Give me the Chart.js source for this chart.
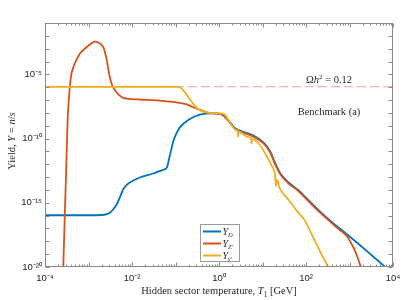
<!DOCTYPE html>
<html><head><meta charset="utf-8">
<script src="https://cdn.jsdelivr.net/npm/chart.js@4"></script>
<style>html,body{margin:0;padding:0;background:#fff;}canvas{display:block;}</style>
</head><body>
<canvas id="c" width="407" height="300"></canvas>
<script>
// ---- tick labels ----
const xTickValues = [1e-4, 1e-2, 1, 1e2, 1e4];
const xTickLabels = ['10⁻⁴', '10⁻²', '10⁰', '10²', '10⁴'];
const yTickValues = [1e-20, 1e-15, 1e-10, 1e-5];
const yTickLabels = ['10⁻²⁰', '10⁻¹⁵', '10⁻¹⁰', '10⁻⁵'];

// ---- Y_D ----
const tD = [1e-4, 1e-3, 2.0e-3, 2.63e-3, 3.09e-3, 3.72e-3, 4.47e-3, 5.37e-3, 6.31e-3, 7.59e-3, 8.91e-3, 1.51e-2, 3.09e-2, 5.01e-2, 6.31e-2, 7.08e-2, 7.94e-2, 8.91e-2, 1.05e-1, 1.26e-1, 2.14e-1, 3.63e-1, 6.76e-1, 1.05, 1.51, 2.34, 3.02, 6.17, 10.5, 14.8, 19.5, 25.1, 39.8, 66.1, 87.1, 191, 427, 661, 1259, 2512, 3981, 6607];
const yD = [1.07e-16, 1.07e-16, 1.12e-16, 1.32e-16, 1.70e-16, 3.16e-16, 7.76e-16, 3.16e-15, 1.15e-14, 2.51e-14, 3.80e-14, 9.33e-14, 1.91e-13, 3.55e-13, 5.25e-13, 2.51e-12, 1.26e-11, 6.31e-11, 2.51e-10, 7.41e-10, 3.39e-9, 7.41e-9, 9.33e-9, 8.32e-9, 3.80e-9, 6.31e-10, 4.17e-10, 1.70e-10, 5.01e-11, 1.12e-11, 1.26e-12, 2.24e-13, 3.80e-14, 1.0e-14, 3.98e-15, 2.82e-16, 2.51e-17, 7.59e-18, 1.26e-18, 1.74e-19, 4.47e-20, 1e-20];

// ---- Y_Z' ----
const tZ = [2.63e-4, 2.88e-4, 3.16e-4, 3.31e-4, 3.47e-4, 3.72e-4, 3.98e-4, 4.47e-4, 5.25e-4, 6.31e-4, 9.12e-4, 1.17e-3, 1.41e-3, 1.66e-3, 1.91e-3, 2.19e-3, 2.40e-3, 2.63e-3, 3.09e-3, 3.55e-3, 4.07e-3, 5.01e-3, 6.31e-3, 1e-2, 1.51e-2, 4.37e-2, 8.91e-2, 1.82e-1, 2.57e-1, 3.63e-1, 5.25e-1, 7.41e-1, 1.15, 1.51, 2.34, 3.02, 6.17, 10.5, 14.8, 19.5, 25.1, 39.8, 66.1, 87.1, 191, 427, 661, 871, 1023, 1349, 1585, 1820];
const yZ = [1e-20, 3.16e-16, 1.12e-11, 2.51e-9, 5.01e-8, 1e-6, 7.94e-6, 3.63e-5, 1.26e-4, 4.07e-4, 1.35e-3, 2.63e-3, 3.55e-3, 3.02e-3, 2.24e-3, 1.35e-3, 5.01e-4, 1.23e-4, 6.03e-6, 1.26e-6, 5.50e-7, 2.51e-7, 1.48e-7, 1.20e-7, 1.10e-7, 9.12e-8, 7.08e-8, 4.68e-8, 2.75e-8, 1.70e-8, 1.12e-8, 9.33e-9, 7.59e-9, 3.31e-9, 5.62e-10, 3.55e-10, 1.41e-10, 4.17e-11, 8.91e-12, 1.0e-12, 1.86e-13, 3.16e-14, 8.32e-15, 3.31e-15, 2.34e-16, 2.0e-17, 5.62e-18, 2.51e-18, 1.05e-18, 1.74e-19, 3.98e-20, 1e-20];

// ---- Y_gamma' ----
const tG = [1e-4, 1.12e-1, 1.32e-1, 1.51e-1, 1.82e-1, 2.19e-1, 2.57e-1, 3.09e-1, 3.63e-1, 5.25e-1, 7.94e-1, 1.15, 1.38, 1.51, 1.74, 2.0, 2.34, 2.69, 2.75, 2.82, 3.55, 4.68, 5.50, 5.62, 5.75, 8.71, 12.6, 16.2, 19.5, 20.4, 21.4, 25.1, 36.3, 61.7, 95.5, 135, 209, 324];
const yG = [1.05e-6, 1.05e-6, 8.91e-7, 5.62e-7, 2.51e-7, 1e-7, 5.01e-8, 2.51e-8, 1.58e-8, 1.07e-8, 9.55e-9, 8.91e-9, 7.08e-9, 4.47e-9, 2.0e-9, 1e-9, 5.01e-10, 3.80e-10, 1.41e-10, 3.55e-10, 2.24e-10, 1.32e-10, 1.05e-10, 3.98e-11, 9.33e-11, 3.16e-11, 3.98e-12, 7.94e-13, 1.26e-13, 2.0e-14, 6.31e-14, 1.26e-14, 2.51e-15, 2.34e-16, 3.89e-17, 3.55e-18, 1.74e-19, 1e-20];

// ---- relic abundance line Omega h^2 = 0.12 ----
const omegaT = [1e-4, 1e4];
const omegaY = [1.1e-6, 1.1e-6];

const colD = '#0072BD', colZ = '#D95319', colG = '#EDB120', colOmega = '#ffb0b0';
const zip = (a, b) => a.map((v, i) => ({x: v, y: b[i]}));

const SERIF = '"Liberation Serif", "Times New Roman", serif';
const SANS = '"Liberation Sans", Arial, sans-serif';

function drawRich(ctx, parts, x, y, align) {
  let w = 0;
  const m = parts.map(p => {
    const f = (p.i ? 'italic ' : '') + (p.s || 10.5) + 'px ' + SERIF;
    ctx.font = f;
    const pw = ctx.measureText(p.t).width;
    w += pw + (p.gap || 0);
    return {f, pw};
  });
  let cx = align === 'center' ? x - w / 2 : x;
  ctx.textAlign = 'left';
  ctx.textBaseline = 'alphabetic';
  parts.forEach((p, k) => {
    ctx.font = m[k].f;
    ctx.fillText(p.t, cx, y + (p.dy || 0));
    cx += m[k].pw + (p.gap || 0);
  });
}

const decor = {
  id: 'decor',
  afterDraw(chart) {
    const {ctx, chartArea: a, scales: {x, y}} = chart;
    const P = v => Math.round(v) + 0.5;
    ctx.save();
    ctx.strokeStyle = '#8a8a8a';
    ctx.lineWidth = 1;
    const L = P(a.left), R = Math.round(a.right) - 0.5, T = P(a.top), B = Math.round(a.bottom) - 0.5;
    ctx.strokeRect(L, T, R - L, B - T);
    ctx.beginPath();
    for (let e = -4; e <= 4; e++) {
      for (let m = 1; m <= 9; m++) {
        if (e === 4 && m > 1) break;
        const px = P(x.getPixelForValue(m * Math.pow(10, e)));
        const len = m === 1 ? 4 : 2;
        ctx.moveTo(px, B); ctx.lineTo(px, B - len);
        ctx.moveTo(px, T); ctx.lineTo(px, T + len);
      }
    }
    for (let e = -20; e <= -1; e++) {
      const py = P(y.getPixelForValue(Math.pow(10, e)));
      ctx.moveTo(L, py); ctx.lineTo(L + 4, py);
      ctx.moveTo(R, py); ctx.lineTo(R - 4, py);
    }
    ctx.stroke();

    ctx.fillStyle = '#262626';
    // x title
    drawRich(ctx, [
      {t: 'Hidden sector temperature, '}, {t: 'T', i: 1}, {t: '1', s: 7.5, dy: 2.5}, {t: ' [GeV]'}
    ], (a.left + a.right) / 2, 294, 'center');
    // y title
    ctx.save();
    ctx.translate(14.5, 141);
    ctx.rotate(-Math.PI / 2);
    drawRich(ctx, [
      {t: 'Yield, '}, {t: 'Y', i: 1}, {t: ' = '}, {t: 'n', i: 1}, {t: '/'}, {t: 's', i: 1}
    ], 0, 0, 'center');
    ctx.restore();
    // annotations
    drawRich(ctx, [
      {t: 'Ω'}, {t: 'h', i: 1}, {t: '2', s: 7, dy: -4.5}, {t: ' = 0.12'}
    ], 329, 83, 'center');
    drawRich(ctx, [{t: 'Benchmark (a)'}], 329, 114.5, 'center');

    // legend
    const lx = 200.5, ly = 224.5, lw = 39, lh = 37;
    ctx.fillStyle = '#ffffff';
    ctx.fillRect(lx, ly, lw, lh);
    ctx.strokeStyle = '#9a9a9a';
    ctx.strokeRect(lx, ly, lw, lh);
    const items = [
      {c: colD, sub: 'D'}, {c: colZ, sub: 'Z′'}, {c: colG, sub: 'γ′'}
    ];
    items.forEach((it, k) => {
      const yy = 231.5 + k * 12;
      ctx.strokeStyle = it.c; ctx.lineWidth = 2;
      ctx.beginPath(); ctx.moveTo(203, yy); ctx.lineTo(221, yy); ctx.stroke();
      ctx.fillStyle = '#262626';
      drawRich(ctx, [{t: 'Y', i: 1, s: 10}, {t: it.sub, i: 1, s: 6.5, dy: 2}], 222.5, yy + 3.5, 'left');
    });
    ctx.restore();
  }
};

const lineDs = (label, data, color, w) => ({
  label, data, borderColor: color, backgroundColor: color, borderWidth: w,
  pointRadius: 0, fill: false, cubicInterpolationMode: 'monotone'
});

new Chart(document.getElementById('c'), {
  type: 'line',
  data: {
    datasets: [
      lineDs("Y_γ'", zip(tG, yG), colG, 1.8),
      lineDs("Y_Z'", zip(tZ, yZ), colZ, 1.8),
      lineDs('Y_D', zip(tD, yD), colD, 1.8),
      Object.assign(lineDs('Ωh² = 0.12', zip(omegaT, omegaY), colOmega, 1.2), {borderDash: [9, 4]})
    ]
  },
  options: {
    responsive: false,
    animation: false,
    parsing: true,
    layout: {padding: {top: 23, right: 14, left: 0, bottom: 0}},
    plugins: {legend: {display: false}, tooltip: {enabled: false}},
    scales: {
      x: {
        type: 'logarithmic', min: 1e-4, max: 1e4, position: 'bottom',
        grid: {display: false, drawTicks: false}, border: {display: false},
        afterBuildTicks: s => { s.ticks = xTickValues.map(v => ({value: v})); },
        afterFit: s => { s.height = 33; },
        ticks: {
          autoSkip: false, maxRotation: 0, padding: 6, color: '#262626',
          font: {family: SANS, size: 9.5},
          callback: (v, i) => xTickLabels[i]
        }
      },
      y: {
        type: 'logarithmic', min: 1e-20, max: 1e-1, position: 'left',
        grid: {display: false, drawTicks: false}, border: {display: false},
        afterBuildTicks: s => { s.ticks = yTickValues.map(v => ({value: v})); },
        afterFit: s => { s.width = 45; },
        ticks: {
          autoSkip: false, padding: 3, color: '#262626',
          font: {family: SANS, size: 9.5},
          callback: (v, i) => yTickLabels[i]
        }
      }
    }
  },
  plugins: [decor]
});
</script>
</body></html>
